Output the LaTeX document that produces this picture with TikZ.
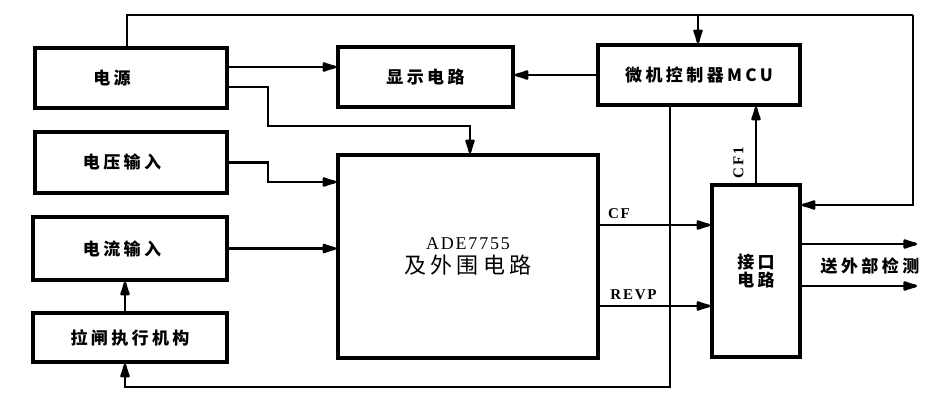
\documentclass[tikz,border=0pt]{standalone}
\usepackage{fontspec}
\newfontfamily\cjk{Noto Sans CJK SC}
\newfontfamily\labfont{Liberation Serif}
\newfontfamily\adefont{Liberation Serif}[LetterSpace=10]
\usetikzlibrary{arrows.meta,positioning}

\tikzset{
    blk/.style={draw, line width=3.6pt, inner sep=0pt, font=\cjk\bfseries\fontsize{17}{15}\selectfont\addfontfeatures{LetterSpace=20}},
    wire/.style={line width=2.8pt},
    arr/.style={wire, -{Latex[round,length=20pt,width=11pt]}},
    sig/.style={font=\labfont\bfseries\fontsize{15}{15}\selectfont\addfontfeatures{LetterSpace=12}}
}

\begin{document}
\begin{tikzpicture}[x=1pt,y=-1pt]
    \useasboundingbox[fill=white] (0,0) rectangle (943,405);

    \node[blk, minimum width=192pt, minimum height=60pt] (power) at (131,78) {\hspace*{-38pt}电源};
    \node[blk, minimum width=175pt, minimum height=60pt] (disp) at (425.5,77) {显示电路};
    \node[blk, minimum width=202pt, minimum height=60pt] (mcu) at (699,75) {微机控制器MCU};
    \node[blk, minimum width=192pt, minimum height=61pt] (volt) at (131,162.5) {\hspace*{-18pt}电压输入};
    \node[blk, minimum width=194pt, minimum height=63pt] (curr) at (130,248.5) {\hspace*{-16pt}电流输入};
    \node[blk, minimum width=194pt, minimum height=49pt] (trip) at (130,337.5) {拉闸执行机构};
    \node[blk, minimum width=260pt, minimum height=203pt, font=\adefont\fontsize{18}{24}\selectfont, align=center] (ade) at (468,256.5)
        {ADE7755\\
         {\cjk\fontsize{22}{24}\selectfont\addfontfeatures{LetterSpace=20}及外围电路}};
    \node[blk, minimum width=88pt, minimum height=172pt, align=center] (intf) at (756,271) {接口\\电路};

    \coordinate (tl) at (127,15);
    \coordinate (tr) at (913,15);
    \coordinate (tm) at (698,15);
    \coordinate (bl) at (125,387);
    \coordinate (bm) at (670,387);
    \coordinate (out1) at (917,244);
    \coordinate (out2) at (917,286);

    \draw[wire] (power.north -| tl) -- (tl) -- (tr);
    \draw[arr] (tr) |- ([yshift=66pt]intf.east);
    \draw[arr] (tm) -- (mcu.north -| tm);
    \draw[arr] ([yshift=11pt]power.east) -- (disp.west |- 0,67);
    \draw[arr] ([yshift=-9pt]power.east) -| (268,126) -| (ade.north -| 470,0);
    \draw[arr] (volt.east) -| (268,182) -- (ade.west |- 0,182);
    \draw[arr] (curr.east) -- (ade.west |- curr.east);
    \draw[arr] (mcu.west) -- (disp.east |- mcu.west);
    \draw[arr] (trip.north -| bl) -- (curr.south -| bl);
    \draw[arr] (mcu.south -| bm) -- (bm) -- (bl) -- (trip.south -| bl);
    \draw[arr] (ade.east |- 0,225) -- (intf.west |- 0,225);
    \draw[arr] (ade.east |- 0,306) -- (intf.west |- 0,306);
    \draw[arr] (intf.north) -- (mcu.south -| intf.north);
    \draw[arr] (intf.east |- out1) -- (out1);
    \draw[arr] (intf.east |- out2) -- (out2);

    \node[sig] (cf) at (619,214) {CF};
    \node[sig] (revp) at (633.5,295) {REVP};
    \node[sig, rotate=90] (cfone) at (738.5,162.5) {CF1};
    \node[blk, draw=none] (ext) at (870,266.5) {送外部检测};
\end{tikzpicture}
\end{document}
